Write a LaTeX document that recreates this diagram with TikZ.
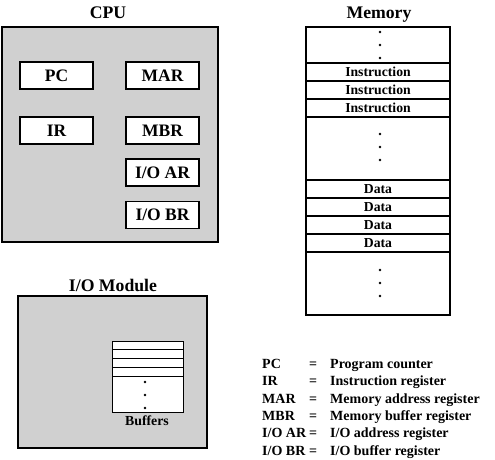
\documentclass[tikz,border=0pt]{standalone}
\usepackage{fontspec}
\setmainfont{Liberation Serif}
\definecolor{boxgray}{RGB}{208,208,208}
\begin{document}
\begin{tikzpicture}[x=1pt,y=-1pt,
  titletext/.style={font=\fontsize{17.7}{20}\selectfont\bfseries, anchor=base, inner sep=0},
  unitbox/.style={draw=black, fill=boxgray, line width=2.5pt, inner sep=0},
  regbox/.style={draw=black, fill=white, line width=1.3pt, inner sep=0,
    minimum width=73pt, minimum height=27pt, font=\fontsize{17.5}{20}\selectfont\bfseries},
  memrow/.style={draw=black, fill=white, line width=1.6pt, inner sep=0,
    minimum width=144pt, font=\fontsize{13.7}{15}\selectfont\bfseries},
  bufrow/.style={draw=black, fill=white, line width=0.9pt, inner sep=0,
    minimum width=71pt},
  dotmark/.style={circle, fill=black, inner sep=0, minimum size=2.9pt},
  legtext/.style={font=\fontsize{14}{16}\selectfont\bfseries, inner sep=0}]
\useasboundingbox (0,0) rectangle (495,460);

% CPU
\node[titletext] (cputitle) at (108,18.5) {CPU};
\node[unitbox, minimum width=216pt, minimum height=215pt] (cpu) at (110,134.5) {};
\node[regbox] (pc)   at (56.5,75.5)  {PC};
\node[regbox] (mar)  at (162.5,75.5) {MAR};
\node[regbox] (ir)   at (56.5,130.5) {IR};
\node[regbox] (mbr)  at (162.5,130.5) {MBR};
\node[regbox] (ioar) at (162.5,172.5) {I/O AR};
\node[regbox] (iobr) at (162.5,215)   {I/O BR};

% Memory
\node[titletext] (memtitle) at (379,18.5) {Memory};
\node[memrow, minimum height=36pt] (mtop) at (378,45) {};
\node[memrow, minimum height=18pt] (i1) at (378,72)  {Instruction};
\node[memrow, minimum height=18pt] (i2) at (378,90)  {Instruction};
\node[memrow, minimum height=18pt] (i3) at (378,108) {Instruction};
\node[memrow, minimum height=63pt] (mmid) at (378,148.5) {};
\node[memrow, minimum height=18pt] (d1) at (378,189) {Data};
\node[memrow, minimum height=18pt] (d2) at (378,207) {Data};
\node[memrow, minimum height=18pt] (d3) at (378,225) {Data};
\node[memrow, minimum height=18pt] (d4) at (378,243) {Data};
\node[memrow, minimum height=63pt] (mbot) at (378,283.5) {};
\node[draw=black, line width=2pt, inner sep=0, minimum width=144pt, minimum height=288pt] (mem) at (378,171) {};
\node[dotmark] (mt1) at (380,32) {};
\node[dotmark] (mt2) at (380,45) {};
\node[dotmark] (mt3) at (380,58) {};
\node[dotmark] (mm1) at (380,134) {};
\node[dotmark] (mm2) at (380,147) {};
\node[dotmark] (mm3) at (380,160) {};
\node[dotmark] (mb1) at (380,270) {};
\node[dotmark] (mb2) at (380,283) {};
\node[dotmark] (mb3) at (380,296) {};

% I/O Module
\node[titletext] (iotitle) at (113,291) {I/O Module};
\node[unitbox, minimum width=189pt, minimum height=152pt] (iom) at (112.5,372) {};
\node[bufrow, minimum height=8.75pt] (b1) at (147.5,345.375) {};
\node[bufrow, minimum height=8.75pt] (b2) at (147.5,354.125) {};
\node[bufrow, minimum height=8.75pt] (b3) at (147.5,362.875) {};
\node[bufrow, minimum height=8.75pt] (b4) at (147.5,371.625) {};
\node[bufrow, minimum height=36pt] (b5) at (147.5,394) {};
\node[dotmark] (bd1) at (145,382) {};
\node[dotmark] (bd2) at (145,395) {};
\node[dotmark] (bd3) at (145,408) {};
\node[font=\fontsize{13.8}{15}\selectfont\bfseries, anchor=base, inner sep=0] (buflabel) at (147,425) {Buffers};

% Legend
\node[legtext, anchor=base west] (la1) at (262,368.3) {PC};
\node[legtext, anchor=base]      (le1) at (313,368.3) {=};
\node[legtext, anchor=base west] (ld1) at (330,368.3) {Program counter};
\node[legtext, anchor=base west] (la2) at (262,385.7) {IR};
\node[legtext, anchor=base]      (le2) at (313,385.7) {=};
\node[legtext, anchor=base west] (ld2) at (330,385.7) {Instruction register};
\node[legtext, anchor=base west] (la3) at (262,403.1) {MAR};
\node[legtext, anchor=base]      (le3) at (313,403.1) {=};
\node[legtext, anchor=base west] (ld3) at (330,403.1) {Memory address register};
\node[legtext, anchor=base west] (la4) at (262,420.5) {MBR};
\node[legtext, anchor=base]      (le4) at (313,420.5) {=};
\node[legtext, anchor=base west] (ld4) at (330,420.5) {Memory buffer register};
\node[legtext, anchor=base west] (la5) at (262,437.9) {I/O AR};
\node[legtext, anchor=base]      (le5) at (313,437.9) {=};
\node[legtext, anchor=base west] (ld5) at (330,437.9) {I/O address register};
\node[legtext, anchor=base west] (la6) at (262,455.3) {I/O BR};
\node[legtext, anchor=base]      (le6) at (313,455.3) {=};
\node[legtext, anchor=base west] (ld6) at (330,455.3) {I/O buffer register};
\end{tikzpicture}
\end{document}
